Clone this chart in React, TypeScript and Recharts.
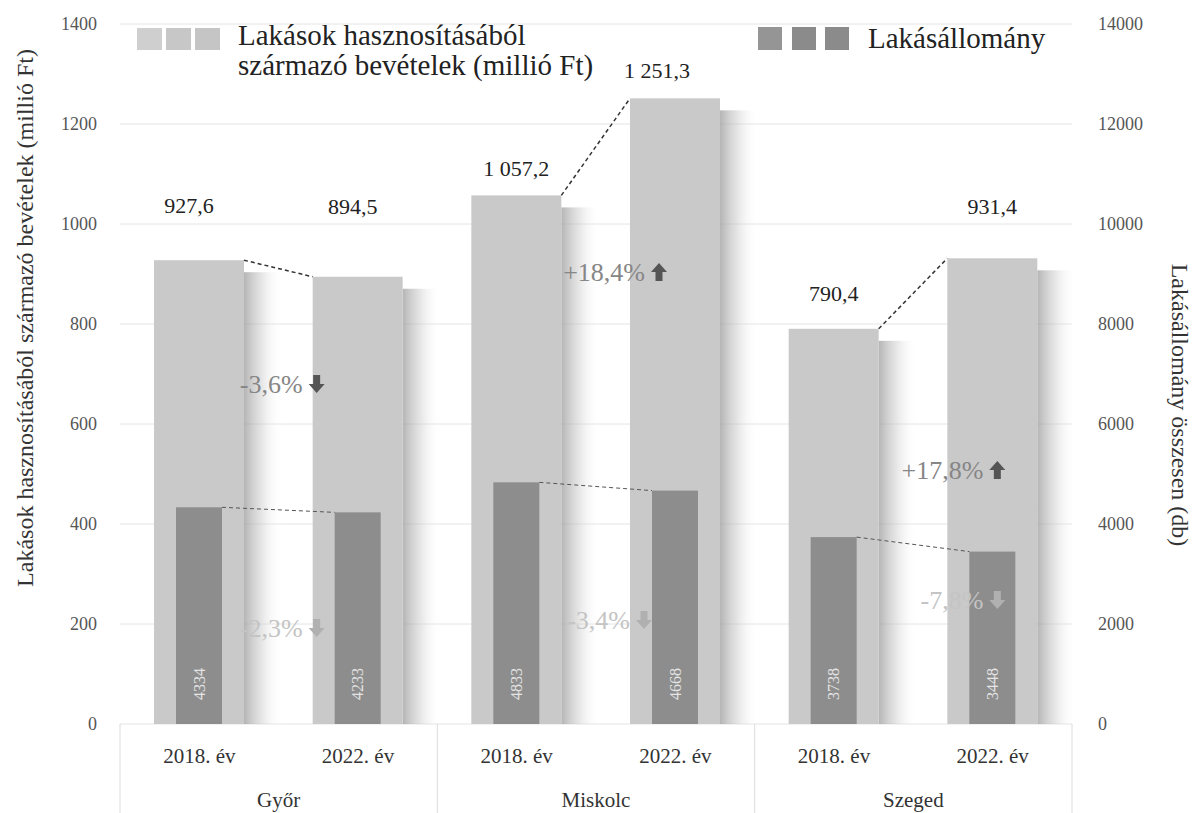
import React from 'react'
import { BarChart, Bar, XAxis, YAxis, CartesianGrid, Legend } from 'recharts'

const cities = ['Győr', 'Miskolc', 'Szeged']
const years = ['2018. év', '2022. év']
const revenue = [927.6, 894.5, 1057.2, 1251.3, 790.4, 931.4]
const housing = [4334, 4233, 4833, 4668, 3738, 3448]
const revenueChange = ['-3,6%', '+18,4%', '+17,8%']
const housingChange = ['-2,3%', '-3,4%', '-7,8%']
const leftTicks = [0, 200, 400, 600, 800, 1000, 1200, 1400]
const rightTicks = [0, 2000, 4000, 6000, 8000, 10000, 12000, 14000]

const data = revenue.map((r, i) => ({
  slot: `${cities[Math.floor(i / 2)]} ${years[i % 2]}`,
  city: cities[Math.floor(i / 2)],
  year: years[i % 2],
  revenue: r,
  housing: housing[i],
}))

const W = 1194
const H = 813
const PLOT_LEFT = 120
const PLOT_RIGHT = 1072
const PLOT_BOTTOM = 724
const SLOT = (PLOT_RIGHT - PLOT_LEFT) / 6
const FONT = '"Liberation Serif", "Times New Roman", serif'

// hand placed in the original, so kept per label
const labelLift = [55, 70, 27, 28, 35, 52]
const labelShift = [-10, -5, 0, -18, 0, 0]
const revenueNote = [{ arrow: 38, at: 680 }, { arrow: 63, at: 904 }, { arrow: 84, at: 508 }]
const housingNote = [{ arrow: 38, at: 1920 }, { arrow: 48, at: 2080 }, { arrow: 84, at: 2480 }]

const fmt = (v: number) => {
  const [i, d] = v.toFixed(1).split('.')
  return `${i.replace(/\B(?=(\d{3})+(?!\d))/g, ' ')},${d}`
}

const Arrow = ({ cx, cy, up, fill }: { cx: number; cy: number; up: boolean; fill: string }) => {
  const s = up ? -1 : 1
  const d = `M ${cx - 3.5} ${cy - 9 * s} L ${cx + 3.5} ${cy - 9 * s} L ${cx + 3.5} ${cy} L ${cx + 8} ${cy} L ${cx} ${cy + 9 * s} L ${cx - 8} ${cy} L ${cx - 3.5} ${cy} Z`
  return <path d={d} fill={fill} />
}

const Note = ({ gx, y, text, arrowFill, textFill }: any) => (
  <g>
    <text x={gx - 14} y={y} textAnchor="end" dominantBaseline="central" fontSize={26} fontFamily={FONT} fill={textFill}>
      {text}
    </text>
    <Arrow cx={gx} cy={y} up={text.startsWith('+')} fill={arrowFill} />
  </g>
)

const RevenueBar = (props: any) => {
  const { x, y, width, height, index } = props
  const base = y + height
  const ppu = height / revenue[index]
  const g = Math.floor(index / 2)
  const gc = PLOT_LEFT + SLOT * (2 * g + 1)
  return (
    <g>
      <defs>
        <linearGradient id={`sh${index}`} x1="0" y1="0" x2="1" y2="0">
          <stop offset="0%" stopColor="#9c9c9c" stopOpacity={0.75} />
          <stop offset="45%" stopColor="#c4c4c4" stopOpacity={0.45} />
          <stop offset="100%" stopColor="#ffffff" stopOpacity={0} />
        </linearGradient>
      </defs>
      <rect x={x + width} y={y + 12} width={38} height={height - 12} fill={`url(#sh${index})`} />
      <rect x={x} y={y} width={width} height={height} fill="#c9c9c9" />
      <text x={x + width / 2 + labelShift[index]} y={y - labelLift[index]} textAnchor="middle" dominantBaseline="central" fontSize={22} fontFamily={FONT} fill="#222">
        {fmt(revenue[index])}
      </text>
      {index % 2 === 0 && (
        <line x1={x + width} y1={y} x2={x + SLOT} y2={base - revenue[index + 1] * ppu} stroke="#333" strokeWidth={1.5} strokeDasharray="4 3" />
      )}
      {index % 2 === 1 && (
        <Note gx={gc + revenueNote[g].arrow} y={base - revenueNote[g].at * ppu} text={revenueChange[g]} arrowFill="#555" textFill="#868686" />
      )}
    </g>
  )
}

const HousingBar = (props: any) => {
  const { x, y, width, height, index } = props
  const base = y + height
  const ppu = height / housing[index]
  const g = Math.floor(index / 2)
  const gc = PLOT_LEFT + SLOT * (2 * g + 1)
  const cx = x + width / 2
  const cy = base - 40
  return (
    <g>
      <rect x={x} y={y} width={width} height={height} fill="#8d8d8d" />
      <text x={cx} y={cy} transform={`rotate(-90 ${cx} ${cy})`} textAnchor="middle" dominantBaseline="central" fontSize={16} fontFamily={FONT} fill="#e4e4e4">
        {housing[index]}
      </text>
      {index % 2 === 0 && (
        <line x1={x + width} y1={y} x2={x + SLOT} y2={base - housing[index + 1] * ppu} stroke="#555" strokeWidth={1} strokeDasharray="4 3" />
      )}
      {index % 2 === 1 && (
        <Note gx={gc + housingNote[g].arrow} y={base - housingNote[g].at * ppu} text={housingChange[g]} arrowFill="#b0b0b0" textFill="#c4c4c4" />
      )}
    </g>
  )
}

const YearTick = (props: any) => {
  const { x, index } = props
  const d = data[index]
  if (!d) return null
  return (
    <g>
      <text x={x} y={PLOT_BOTTOM + 39} textAnchor="middle" fontSize={21} fontFamily={FONT} fill="#333">
        {d.year}
      </text>
      {index % 2 === 0 && (
        <>
          <text x={x + SLOT / 2} y={PLOT_BOTTOM + 83} textAnchor="middle" fontSize={21} fontFamily={FONT} fill="#333">
            {d.city}
          </text>
          <line x1={x - SLOT / 2} x2={x - SLOT / 2} y1={PLOT_BOTTOM} y2={H} stroke="#dcdcdc" />
        </>
      )}
      {index === data.length - 1 && <line x1={x + SLOT / 2} x2={x + SLOT / 2} y1={PLOT_BOTTOM} y2={H} stroke="#dcdcdc" />}
    </g>
  )
}

const LegendBox = () => (
  <svg width={W} height={90} style={{ display: 'block' }}>
    {[137, 166, 195].map((lx, i) => (
      <rect key={lx} x={lx} y={28} width={25} height={22} fill={['#cfcfcf', '#c7c7c7', '#c5c5c5'][i]} />
    ))}
    <text x={238} y={45} fontSize={29} fontFamily={FONT} fill="#222">Lakások hasznosításából</text>
    <text x={238} y={75} fontSize={29} fontFamily={FONT} fill="#222">származó bevételek (millió Ft)</text>
    {[758, 792, 825].map((lx, i) => (
      <rect key={lx} x={lx} y={27} width={24} height={23} fill={['#959595', '#8b8b8b', '#8b8b8b'][i]} />
    ))}
    <text x={868} y={48} fontSize={29} fontFamily={FONT} fill="#222">Lakásállomány</text>
  </svg>
)

export default function App() {
  return (
    <div style={{ width: W, height: H }}>
      <style>{'body{margin:0}'}</style>
      <BarChart width={W} height={H} data={data} margin={{ top: 24, right: 0, bottom: 0, left: 0 }}>
        <CartesianGrid vertical={false} xAxisId="year" yAxisId="left" stroke="#e4e4e4" />
        <XAxis xAxisId="year" dataKey="slot" height={89} interval={0} axisLine={false} tickLine={false} tick={<YearTick />} />
        <XAxis xAxisId="hx" dataKey="slot" hide />
        <YAxis
          yAxisId="left"
          domain={[0, 1400]}
          ticks={leftTicks}
          width={120}
          axisLine={false}
          tickLine={false}
          tickSize={0}
          tickMargin={23}
          tick={{ fontSize: 18, fontFamily: FONT, fill: '#555' }}
          label={{
            content: () => (
              <text x={25} y={318} transform="rotate(-90 25 318)" textAnchor="middle" dominantBaseline="central" fontSize={24} fontFamily={FONT} fill="#333">
                Lakások hasznosításából származó bevételek (millió Ft)
              </text>
            ),
          }}
        />
        <YAxis
          yAxisId="right"
          orientation="right"
          domain={[0, 14000]}
          ticks={rightTicks}
          width={122}
          axisLine={false}
          tickLine={false}
          tickSize={0}
          tickMargin={26}
          tick={{ fontSize: 18, fontFamily: FONT, fill: '#555', textAnchor: 'start' }}
          label={{
            content: () => (
              <text x={1180} y={405} transform="rotate(90 1180 405)" textAnchor="middle" dominantBaseline="central" fontSize={24} fontFamily={FONT} fill="#333">
                Lakásállomány összesen (db)
              </text>
            ),
          }}
        />
        <Legend verticalAlign="middle" align="center" layout="horizontal" content={<LegendBox />} wrapperStyle={{ top: 0, left: 0, width: W, height: 90 }} />
        <Bar xAxisId="year" yAxisId="left" dataKey="revenue" barSize={90} shape={<RevenueBar />} isAnimationActive={false} />
        <Bar xAxisId="hx" yAxisId="right" dataKey="housing" barSize={46} shape={<HousingBar />} isAnimationActive={false} />
      </BarChart>
    </div>
  )
}
